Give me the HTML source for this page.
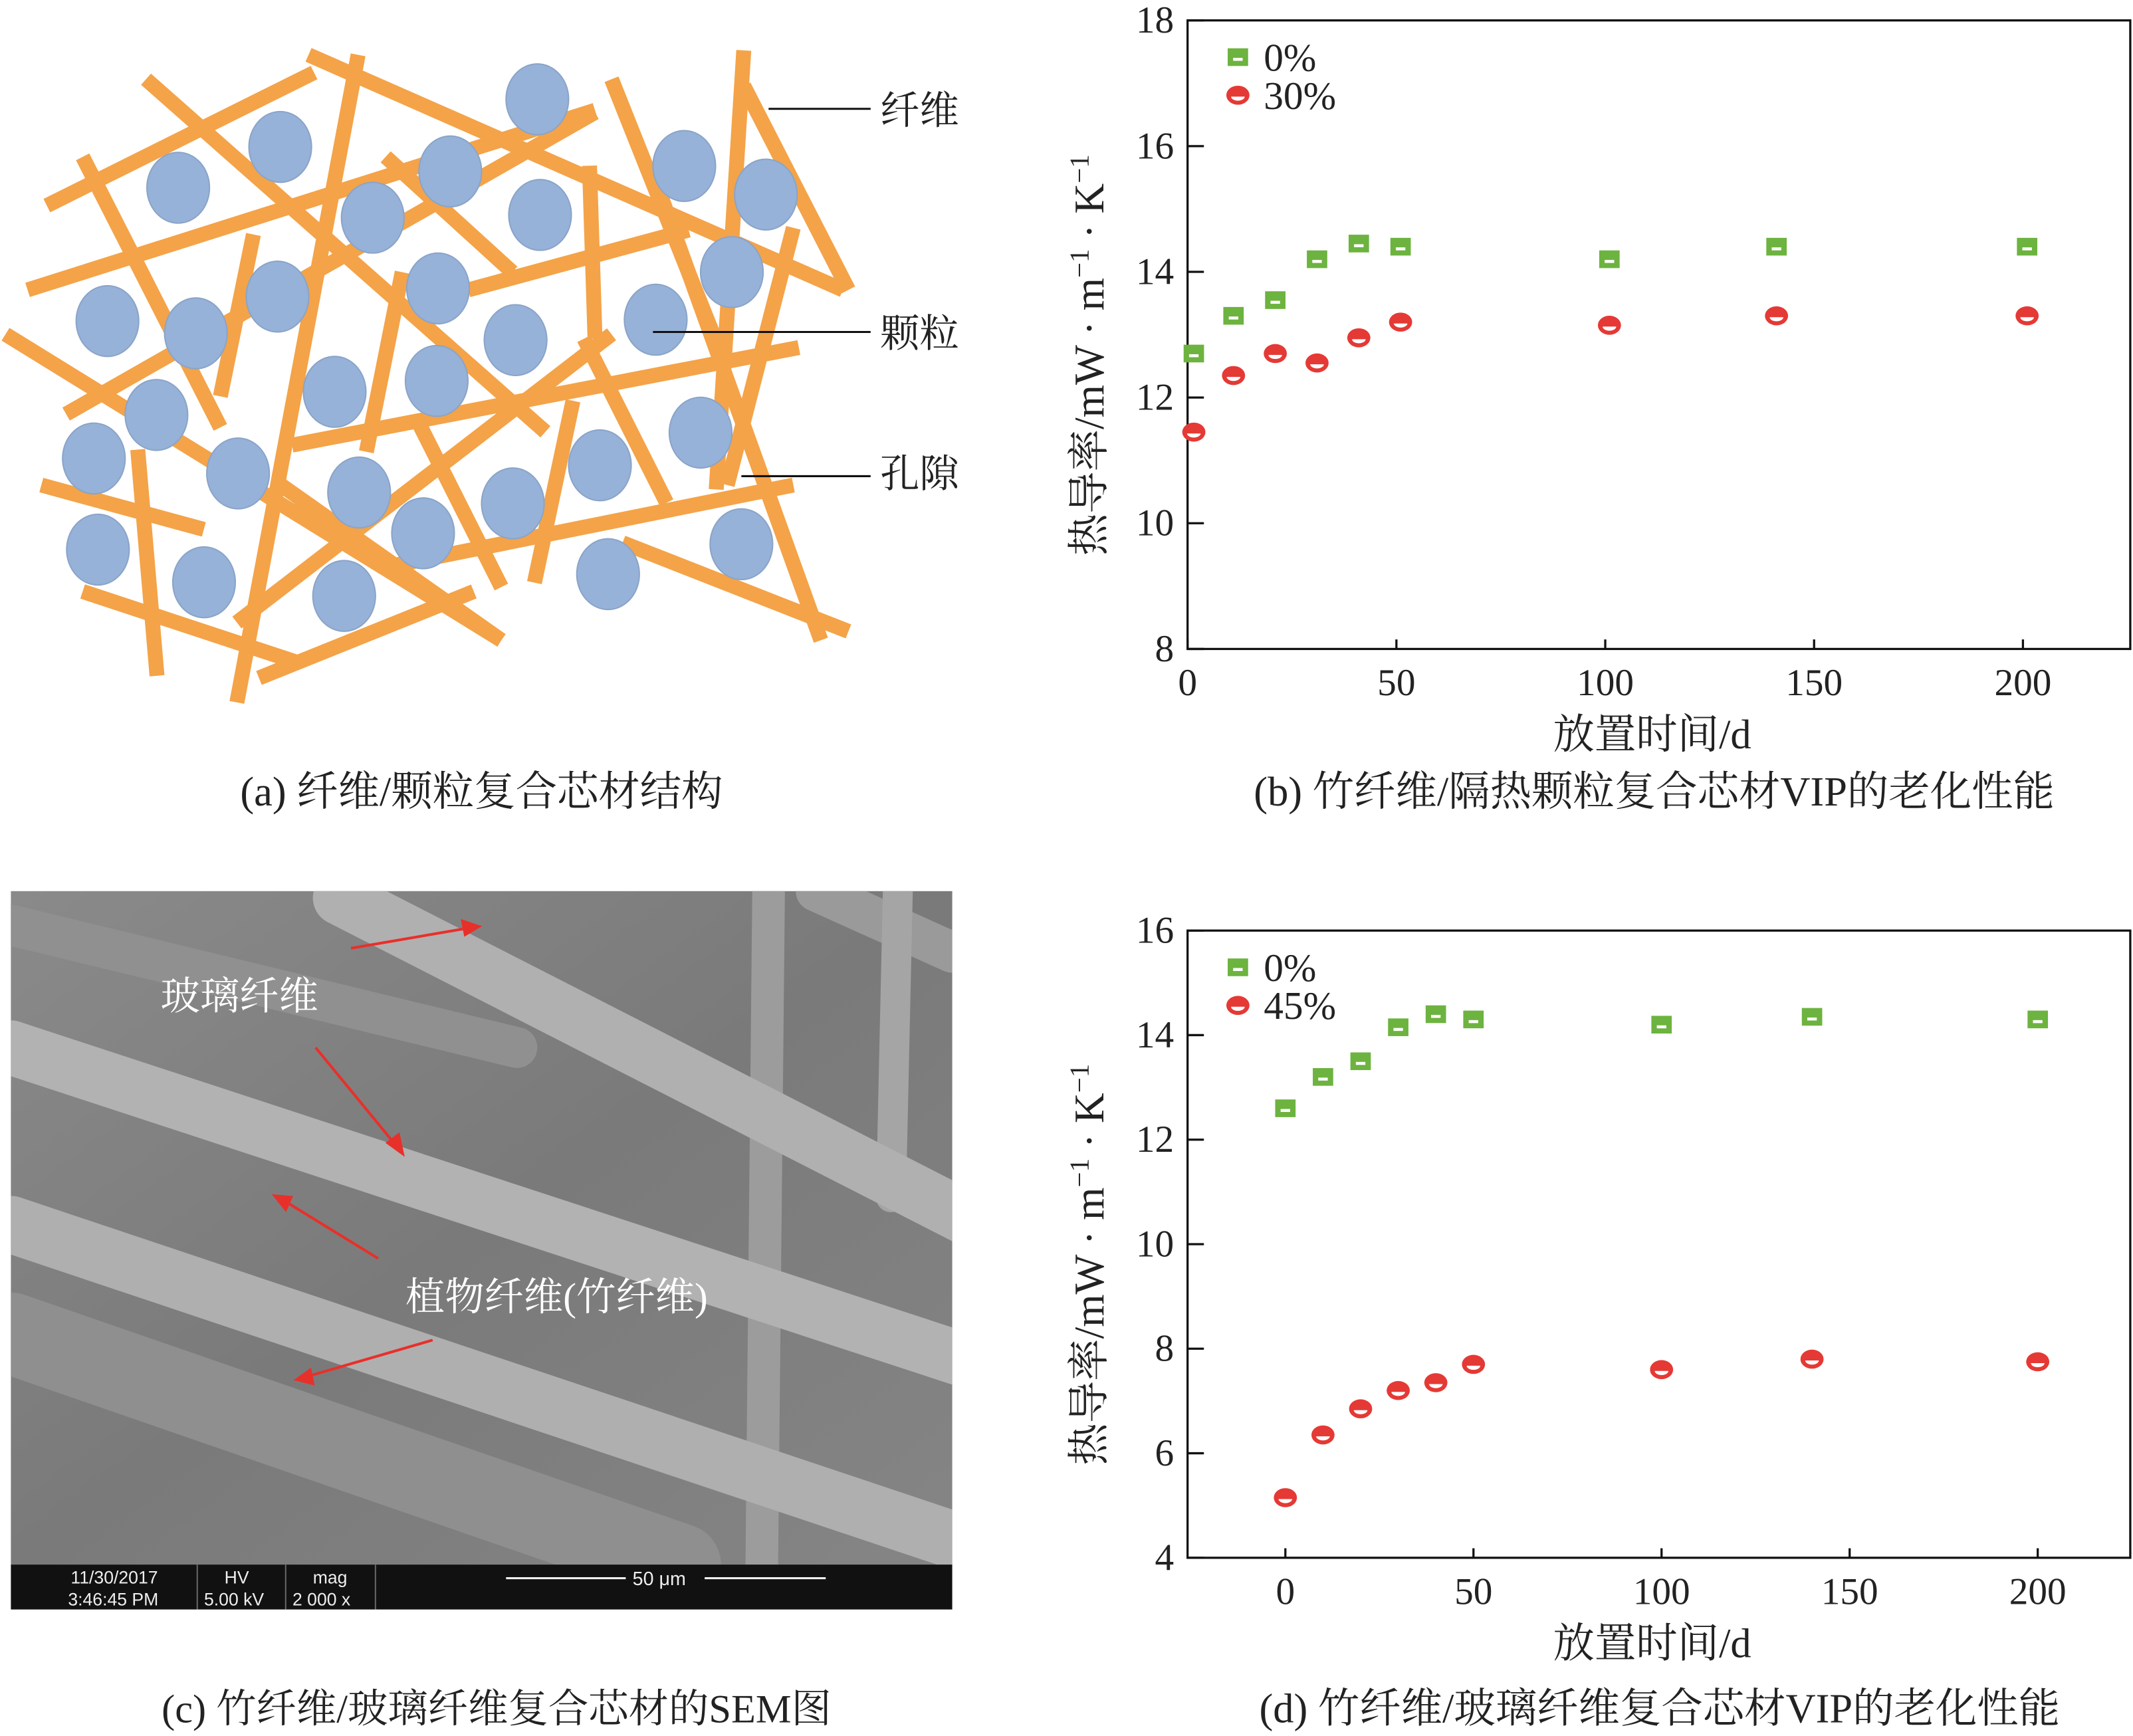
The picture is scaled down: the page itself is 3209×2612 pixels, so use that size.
<!DOCTYPE html>
<html><head><meta charset="utf-8">
<style>
html,body{margin:0;padding:0;background:#fff;}
svg{display:block;}
text{font-family:"Liberation Serif","Noto Serif CJK SC","Noto Sans CJK SC",serif;fill:#222;}
</style></head>
<body>
<svg id="root" width="3209" height="2612" viewBox="0 0 1568 1276" preserveAspectRatio="none" xmlns="http://www.w3.org/2000/svg">
<rect x="0" y="0" width="1568" height="1276" fill="#fff"/>

<!-- Panel a -->
<g id="panelA"></g>
<g>
<line x1="565" y1="80" x2="640" y2="80" stroke="#111" stroke-width="1.5"/>
<line x1="480" y1="244" x2="640" y2="244" stroke="#111" stroke-width="1.5"/>
<line x1="545" y1="350" x2="640" y2="350" stroke="#111" stroke-width="1.5"/>
<text x="647" y="91" font-size="29">纤维</text>
<text x="647" y="255" font-size="29">颗粒</text>
<text x="647" y="358" font-size="29">孔隙</text>
</g>
<text x="354" y="592" font-size="30.5" text-anchor="middle">(a) 纤维/颗粒复合芯材结构</text>

<!-- Panel c -->
<g>
<defs>
<linearGradient id="bg" x1="0" y1="0" x2="1" y2="1"><stop offset="0" stop-color="#8a8a8a"/><stop offset="0.5" stop-color="#7a7a7a"/><stop offset="1" stop-color="#858585"/></linearGradient>
<clipPath id="semclip"><rect x="8" y="655" width="692" height="495"/></clipPath>
</defs>
<rect x="8" y="655" width="692" height="495" fill="url(#bg)"/>
<g clip-path="url(#semclip)" stroke-linecap="round">
<line x1="600" y1="655" x2="700" y2="700" stroke="#9a9a9a" stroke-width="30"/>
<line x1="660" y1="655" x2="655" y2="880" stroke="#a5a5a5" stroke-width="22"/>
<line x1="565" y1="655" x2="560" y2="1150" stroke="#9c9c9c" stroke-width="24"/>
<line x1="8" y1="680" x2="380" y2="770" stroke="#909090" stroke-width="30"/>
<line x1="8" y1="980" x2="500" y2="1150" stroke="#8f8f8f" stroke-width="60"/>
<line x1="250" y1="660" x2="710" y2="895" stroke="#b0b0b0" stroke-width="40"/>
<line x1="8" y1="770" x2="710" y2="1000" stroke="#b2b2b2" stroke-width="40"/>
<line x1="8" y1="900" x2="710" y2="1135" stroke="#afafaf" stroke-width="42"/>
</g>
<rect x="8" y="1150" width="692" height="33" fill="#111"/>
<g>
<text x="52" y="1164" font-size="13" style="fill:#eee;font-family:'Liberation Sans',sans-serif">11/30/2017</text>
<text x="50" y="1180" font-size="13" style="fill:#eee;font-family:'Liberation Sans',sans-serif">3:46:45 PM</text>
<text x="165" y="1164" font-size="13" style="fill:#eee;font-family:'Liberation Sans',sans-serif">HV</text>
<text x="150" y="1180" font-size="13" style="fill:#eee;font-family:'Liberation Sans',sans-serif">5.00 kV</text>
<text x="230" y="1164" font-size="13" style="fill:#eee;font-family:'Liberation Sans',sans-serif">mag</text>
<text x="215" y="1180" font-size="13" style="fill:#eee;font-family:'Liberation Sans',sans-serif">2 000 x</text>
<text x="465" y="1165" font-size="14" style="fill:#eee;font-family:'Liberation Sans',sans-serif">50 μm</text>
</g>
<line x1="372" y1="1160" x2="460" y2="1160" stroke="#eee" stroke-width="1.5"/>
<line x1="518" y1="1160" x2="607" y2="1160" stroke="#eee" stroke-width="1.5"/>
<line x1="145" y1="1150" x2="145" y2="1183" stroke="#666"/>
<line x1="210" y1="1150" x2="210" y2="1183" stroke="#666"/>
<line x1="276" y1="1150" x2="276" y2="1183" stroke="#666"/>
<text x="118" y="742" font-size="29" style="fill:#fff">玻璃纤维</text>
<text x="298" y="963" font-size="29" style="fill:#fff">植物纤维(竹纤维)</text>
<g stroke="#e8302a" stroke-width="2" fill="#e8302a">
<line x1="258" y1="697" x2="345" y2="682"/><polygon points="352,681 340,677 342,687"/>
<line x1="232" y1="770" x2="292" y2="843"/><polygon points="296,848 285,840 293,834"/>
<line x1="278" y1="925" x2="208" y2="882"/><polygon points="202,879 210,889 214,880"/>
<line x1="318" y1="985" x2="225" y2="1012"/><polygon points="218,1014 230,1017 228,1007"/>
</g>
</g>
<text x="365" y="1266" font-size="29.5" text-anchor="middle">(c) 竹纤维/玻璃纤维复合芯材的SEM图</text>

<!-- Chart b -->
<g id="chartB"></g>
<text x="1216" y="592" font-size="30.5" text-anchor="middle">(b) 竹纤维/隔热颗粒复合芯材VIP的老化性能</text>
<!-- Chart d -->
<g id="chartD"></g>
<text x="1220" y="1266" font-size="30.5" text-anchor="middle">(d) 竹纤维/玻璃纤维复合芯材VIP的老化性能</text>
</svg>

<script>
// ---------- Chart data ----------
const daysB = [1.5, 11, 21, 31, 41, 51, 101, 141, 201];
const b0 = [12.7, 13.3, 13.55, 14.2, 14.45, 14.4, 14.2, 14.4, 14.4];
const b30 = [11.45, 12.35, 12.7, 12.55, 12.95, 13.2, 13.15, 13.3, 13.3];
const bXTicks = [0, 50, 100, 150, 200];
const bYTicks = [8, 10, 12, 14, 16, 18];
const daysD = [0, 10, 20, 30, 40, 50, 100, 140, 200];
const d0 = [12.6, 13.2, 13.5, 14.15, 14.4, 14.3, 14.2, 14.35, 14.3];
const d45 = [5.15, 6.35, 6.85, 7.2, 7.35, 7.7, 7.6, 7.8, 7.75];
const dXTicks = [0, 50, 100, 150, 200];
const dYTicks = [4, 6, 8, 10, 12, 14, 16];
const legendB = ["0%", "30%"];
const legendD = ["0%", "45%"];

const NS = "http://www.w3.org/2000/svg";
function mk(tag, attrs, parent){
  const e = document.createElementNS(NS, tag);
  for (const k in attrs) e.setAttribute(k, attrs[k]);
  parent.appendChild(e); return e;
}
function square(g, cx, cy){
  const s = mk('g', {}, g);
  
  
  mk('rect', {x:cx-7.5, y:cy-6.5, width:15, height:13, fill:'#6db33f'}, s);
  mk('rect', {x:cx-3.5, y:cy+0.5, width:7, height:2.2, fill:'#fff'}, s);
}
function circ(g, cx, cy){
  const s = mk('g', {}, g);
  
  
  mk('ellipse', {cx:cx, cy:cy, rx:8.5, ry:7, fill:'#e53935'}, s);
  mk('path', {d:`M${cx-5},${cy+1} L${cx+5},${cy+1} A5 3 0 0 1 ${cx-5},${cy+1} Z`, fill:'#fff'}, s);
}

function chart(g, box, xDom, yDom, xTicks, yTicks, days, s0, s1, legend){
  const X = v => box.l + (v - xDom[0]) / (xDom[1] - xDom[0]) * (box.r - box.l);
  const Y = v => box.b - (v - yDom[0]) / (yDom[1] - yDom[0]) * (box.b - box.t);
  const frame = mk('rect', {x:box.l, y:box.t, width:box.r-box.l, height:box.b-box.t, fill:'none', stroke:'#111', 'stroke-width':1.6}, g);
  
  
  xTicks.forEach(t => {
    const x = X(t);
    mk('line', {x1:x, y1:box.b, x2:x, y2:box.b-7, stroke:'#111', 'stroke-width':1.6}, g);
    const tx = mk('text', {x:x, y:box.b+34, 'font-size':28, 'text-anchor':'middle'}, g);
    
    
    tx.textContent = t;
  });
  yTicks.forEach(t => {
    const y = Y(t);
    mk('line', {x1:box.l, y1:y, x2:box.l+12, y2:y, stroke:'#111', 'stroke-width':1.6}, g);
    const tx = mk('text', {x:box.l-10, y:y+9, 'font-size':28, 'text-anchor':'end'}, g);
    
    
    tx.textContent = t;
  });
  const xt = mk('text', {x:(box.l+box.r)/2 - 5, y:box.b+73, 'font-size':30.5, 'text-anchor':'middle'}, g);
  
  
  xt.textContent = '放置时间/d';
  const cy = (box.t+box.b)/2 + 15;
  const yt = mk('text', {x:0, y:0, 'font-size':31, 'text-anchor':'middle', transform:`translate(${box.l-62},${cy}) rotate(-90)`}, g);
  
  
  yt.innerHTML = '热导率/mW · m<tspan dy="-11" font-size="20">−1</tspan><tspan dy="11"> · K</tspan><tspan dy="-11" font-size="20">−1</tspan>';
  const sA = mk('g', {}, g);
  
  
  days.forEach((d,i) => square(sA, X(d), Y(s0[i])));
  const sB = mk('g', {}, g);
  
  
  days.forEach((d,i) => circ(sB, X(d), Y(s1[i])));
  const lg = mk('g', {}, g);
  
  
  square(lg, box.l+37, box.t+27);
  circ(lg, box.l+37, box.t+55);
  const l1 = mk('text', {x:box.l+56, y:box.t+37, 'font-size':29}, lg);
  
  
  l1.textContent = legend[0];
  const l2 = mk('text', {x:box.l+56, y:box.t+65, 'font-size':29}, lg);
  
  
  l2.textContent = legend[1];
}
chart(document.getElementById('chartB'), {l:873, r:1566, t:15, b:477}, [0, 225.7], [8, 18], bXTicks, bYTicks, daysB, b0, b30, legendB);
chart(document.getElementById('chartD'), {l:873, r:1566, t:684, b:1145}, [-26, 224.6], [4, 16], dXTicks, dYTicks, daysD, d0, d45, legendD);

// ---------- Panel a diagram ----------
const fibers = [
 [85,390,570,90],[560,50,1530,580],[50,580,1080,175],[265,105,990,900],[150,280,400,890],
 [650,50,430,1510],[10,680,910,1370],[120,860,1080,180],[400,820,460,455],[730,540,665,945],
 [850,580,1250,445],[1070,300,1080,690],[1110,105,1320,760],[1180,300,1490,1370],[1350,40,1300,1030],
 [1350,120,1540,580],[1440,440,1320,1020],[530,930,1450,710],[1040,830,970,1240],[720,1200,1440,1020],
 [75,1020,370,1120],[250,940,285,1450],[150,1260,540,1420],[470,1455,860,1260],[510,1020,910,1370],
 [430,1330,1110,680],[760,880,910,1250],[1130,1150,1540,1350],[1060,690,1210,1060],[700,280,930,540]
];
const particles = [
 [395,73],[206,108],[131,138],[331,126],[274,160],[397,158],[503,122],[563,143],[538,200],[204,218],
 [322,212],[79,236],[144,245],[379,250],[482,235],[246,288],[321,280],[115,305],[69,337],[175,348],
 [264,362],[441,342],[515,318],[311,392],[377,370],[72,404],[150,428],[253,438],[447,422],[545,400]
];
const pa = document.getElementById('panelA');
fibers.forEach(f => {
  const l = mk('line', {x1:f[0]*0.405, y1:f[1]*0.326+24, x2:f[2]*0.405, y2:f[3]*0.326+24, stroke:'#f4a348', 'stroke-width':11}, pa);
  
  
});
particles.forEach(p => {
  const c = mk('ellipse', {cx:p[0], cy:p[1], rx:23, ry:26, fill:'#97b2d8', stroke:'#8aa4c8', 'stroke-width':1}, pa);
  
  
});
</script>
</body></html>
